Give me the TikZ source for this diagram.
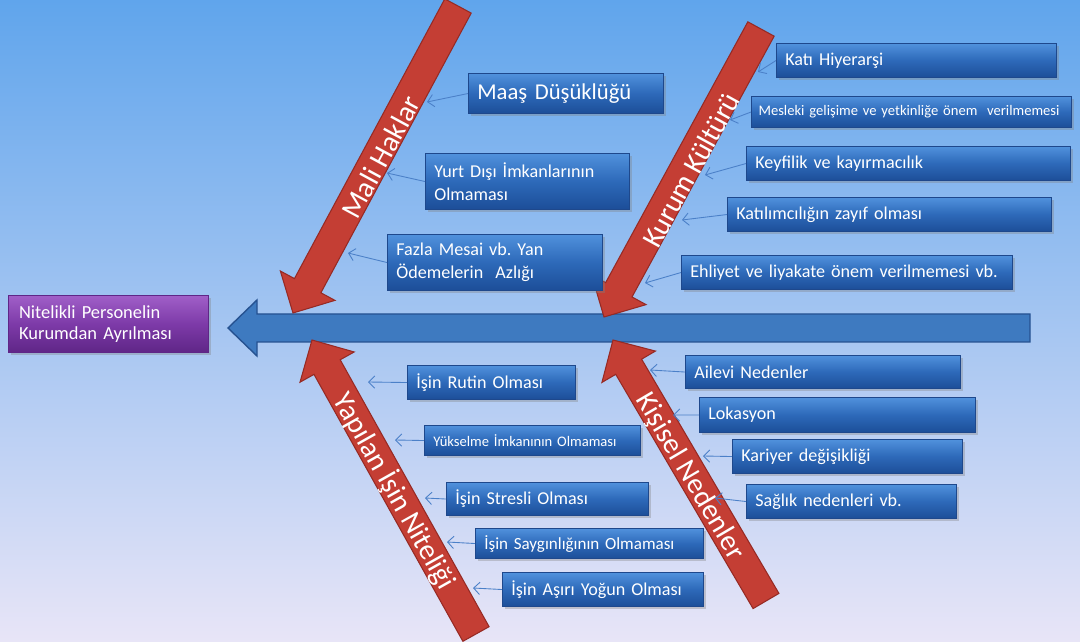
\documentclass[tikz,border=0pt]{standalone}
\usepackage{fontspec}
\setmainfont{Carlito}
\usetikzlibrary{calc,shadows,arrows.meta}
\frenchspacing

\definecolor{skytop}{RGB}{96,165,236}
\definecolor{skymid}{RGB}{155,203,247}
\definecolor{skybot}{RGB}{232,229,247}
\definecolor{boxtop}{RGB}{80,145,220}
\definecolor{boxmid}{RGB}{45,105,185}
\definecolor{boxbot}{RGB}{28,78,152}
\definecolor{boxline}{RGB}{30,72,140}
\definecolor{efftop}{RGB}{160,95,200}
\definecolor{effmid}{RGB}{125,58,168}
\definecolor{effbot}{RGB}{95,38,135}
\definecolor{spinefill}{RGB}{62,122,192}
\definecolor{spineline}{RGB}{38,82,145}
\definecolor{arrowred}{RGB}{196,62,52}
\definecolor{arrowedge}{RGB}{150,42,36}
\definecolor{linkblue}{RGB}{75,128,200}

% big red arrow from tail #2 to tip #1
\newcommand{\redarrow}[2]{%
  \coordinate (hb) at ($(#1)!0.62cm!(#2)$);
  \draw[redbody] (#1) -- ($(hb)!0.62cm!90:(#1)$) -- ($(hb)!0.3cm!90:(#1)$)
    -- ($(#2)!0.3cm!90:(#1)$) -- ($(#2)!0.3cm!-90:(#1)$)
    -- ($(hb)!0.3cm!-90:(#1)$) -- ($(hb)!0.62cm!-90:(#1)$) -- cycle;}

\begin{document}
\begin{tikzpicture}[x=0.02cm, y=-0.02cm,
    cause/.style 2 args={/utils/exec={\pgfmathsetlengthmacro\causewd{#1*0.02cm-10pt}},
      anchor=north west, draw=boxline, line width=0.6pt,
      top color=boxtop, bottom color=boxbot, middle color=boxmid,
      drop shadow={opacity=0.35, shadow xshift=1.2pt, shadow yshift=-1.6pt},
      text=white, font=\fontsize{10.3}{13}\selectfont, align=left,
      inner xsep=5pt, inner ysep=0pt, text width=\causewd, minimum height=#2*0.02cm},
    effect/.style={anchor=north west, draw=effbot, line width=0.6pt,
      top color=efftop, bottom color=effbot, middle color=effmid,
      drop shadow={opacity=0.35, shadow xshift=1.2pt, shadow yshift=-1.6pt},
      text=white, font=\fontsize{10.5}{11.8}\selectfont, align=left,
      inner xsep=6pt, text width=102pt, minimum height=57*0.02cm},
    redbody/.style={fill=arrowred, draw=arrowedge, line width=0.6pt, line join=miter},
    redlabel/.style={text=white, font=\fontsize{16.5}{16.5}\selectfont, inner sep=0pt},
    spine/.style={fill=spinefill, draw=spineline, line width=0.8pt},
    link/.style={draw=linkblue, line width=0.5pt, -{Straight Barb[length=3.5pt,width=7pt]}},
  ]
  \useasboundingbox (0,0) rectangle (1080,642);
  \shade[top color=skytop, middle color=skymid, bottom color=skybot] (0,0) rectangle (1080,642);

  % effect and spine
  \node[effect] (effect) at (8,295) {Nitelikli Personelin\\Kurumdan Ayrılması};
  \coordinate (sptip) at (228,328);
  \draw[spine] (sptip) -- (257,300) -- (257,314) -- (1030,314) -- (1030,342)
    -- (257,342) -- (257,356) -- cycle;

  % main bones
  \coordinate (malitip) at (293,313);   \coordinate (malitail) at (458,6);
  \coordinate (kurumtip) at (604,317);  \coordinate (kurumtail) at (761,29);
  \coordinate (isttip) at (312,340);    \coordinate (isttail) at (476,634);
  \coordinate (kistip) at (613,340);    \coordinate (kistail) at (766,601);
  \redarrow{malitip}{malitail}
  \redarrow{kurumtip}{kurumtail}
  \redarrow{isttip}{isttail}
  \redarrow{kistip}{kistail}

  \node[redlabel, rotate=61.6] (malilbl) at (381,157) {Mali Haklar};
  \node[redlabel, rotate=61.1] (kurumlbl) at (691,170) {Kurum Kültürü};
  \node[redlabel, rotate=-60.7] (istlbl) at (395,491) {Yapılan İşin Niteliği};
  \node[redlabel, rotate=-59.5] (kislbl) at (690,477) {Kişisel Nedenler};

  % Mali Haklar
  \node[cause={195}{40}, font=\fontsize{12.9}{14}\selectfont] (maas) at (468,73) {Maaş Düşüklüğü};
  \node[cause={204}{56}] (yurt) at (425,153) {Yurt Dışı İmkanlarının\\Olmaması};
  \node[cause={215}{56}] (fazla) at (387,234) {Fazla Mesai vb. Yan\\Ödemelerin\ \ Azlığı};

  % Kurum Kulturu
  \node[cause={280}{34}] (kati) at (776,43) {Katı Hiyerarşi};
  \node[cause={327}{31}, inner xsep=3pt, font=\fontsize{8.3}{10}\selectfont] (mesleki) at (751,96) {\mbox{\hspace*{1pt}Mesleki gelişime ve yetkinliğe önem\ \ verilmemesi}};
  \node[cause={324}{34}] (keyfi) at (746,146) {Keyfilik ve kayırmacılık};
  \node[cause={324}{34}] (katilim) at (727,197) {Katılımcılığın zayıf olması};
  \node[cause={331}{34}] (ehliyet) at (681,255) {Ehliyet ve liyakate önem verilmemesi vb.};

  % Yapilan Isin Niteligi
  \node[cause={168}{34}] (rutin) at (407,365) {İşin Rutin Olması};
  \node[cause={216}{30}, font=\fontsize{8.3}{10}\selectfont] (yuksel) at (424,425) {Yükselme İmkanının Olmaması};
  \node[cause={202}{33}] (stres) at (446,482) {İşin Stresli Olması};
  \node[cause={228}{30}, font=\fontsize{9.7}{11}\selectfont] (saygin) at (475,528) {İşin Saygınlığının Olmaması};
  \node[cause={201}{34}] (asiri) at (502,572) {İşin Aşırı Yoğun Olması};

  % Kisisel Nedenler
  \node[cause={275}{33}] (ailevi) at (685,355) {Ailevi Nedenler};
  \node[cause={276}{35}] (lokasyon) at (699,397) {Lokasyon};
  \node[cause={230}{34}] (kariyer) at (732,439) {Kariyer değişikliği};
  \node[cause={210}{34}] (saglik) at (746,484) {Sağlık nedenleri vb.};

  % small arrows onto the bones
  \coordinate (maasend) at (427,102);
  \coordinate (yurtend) at (387,173);
  \coordinate (fazlaend) at (348,253);
  \coordinate (katiend) at (758,72);
  \coordinate (meslekiend) at (730,120);
  \coordinate (keyfiend) at (705,175);
  \coordinate (katilimend) at (682,220);
  \coordinate (ehliyetend) at (645,283);
  \coordinate (rutinend) at (368,382);
  \coordinate (yukselend) at (395,440);
  \coordinate (stresend) at (425,498);
  \coordinate (sayginend) at (447,542);
  \coordinate (asiriend) at (473,588);
  \coordinate (aileviend) at (650,370);
  \coordinate (lokasyonend) at (673,415);
  \coordinate (kariyerend) at (703,456);
  \coordinate (saglikend) at (715,498);

  \foreach \c in {maas,yurt,fazla,kati,mesleki,keyfi,katilim,ehliyet,
                  rutin,yuksel,stres,saygin,asiri,ailevi,lokasyon,kariyer,saglik}
    \draw[link] (\c.west) -- (\c end);
\end{tikzpicture}
\end{document}
